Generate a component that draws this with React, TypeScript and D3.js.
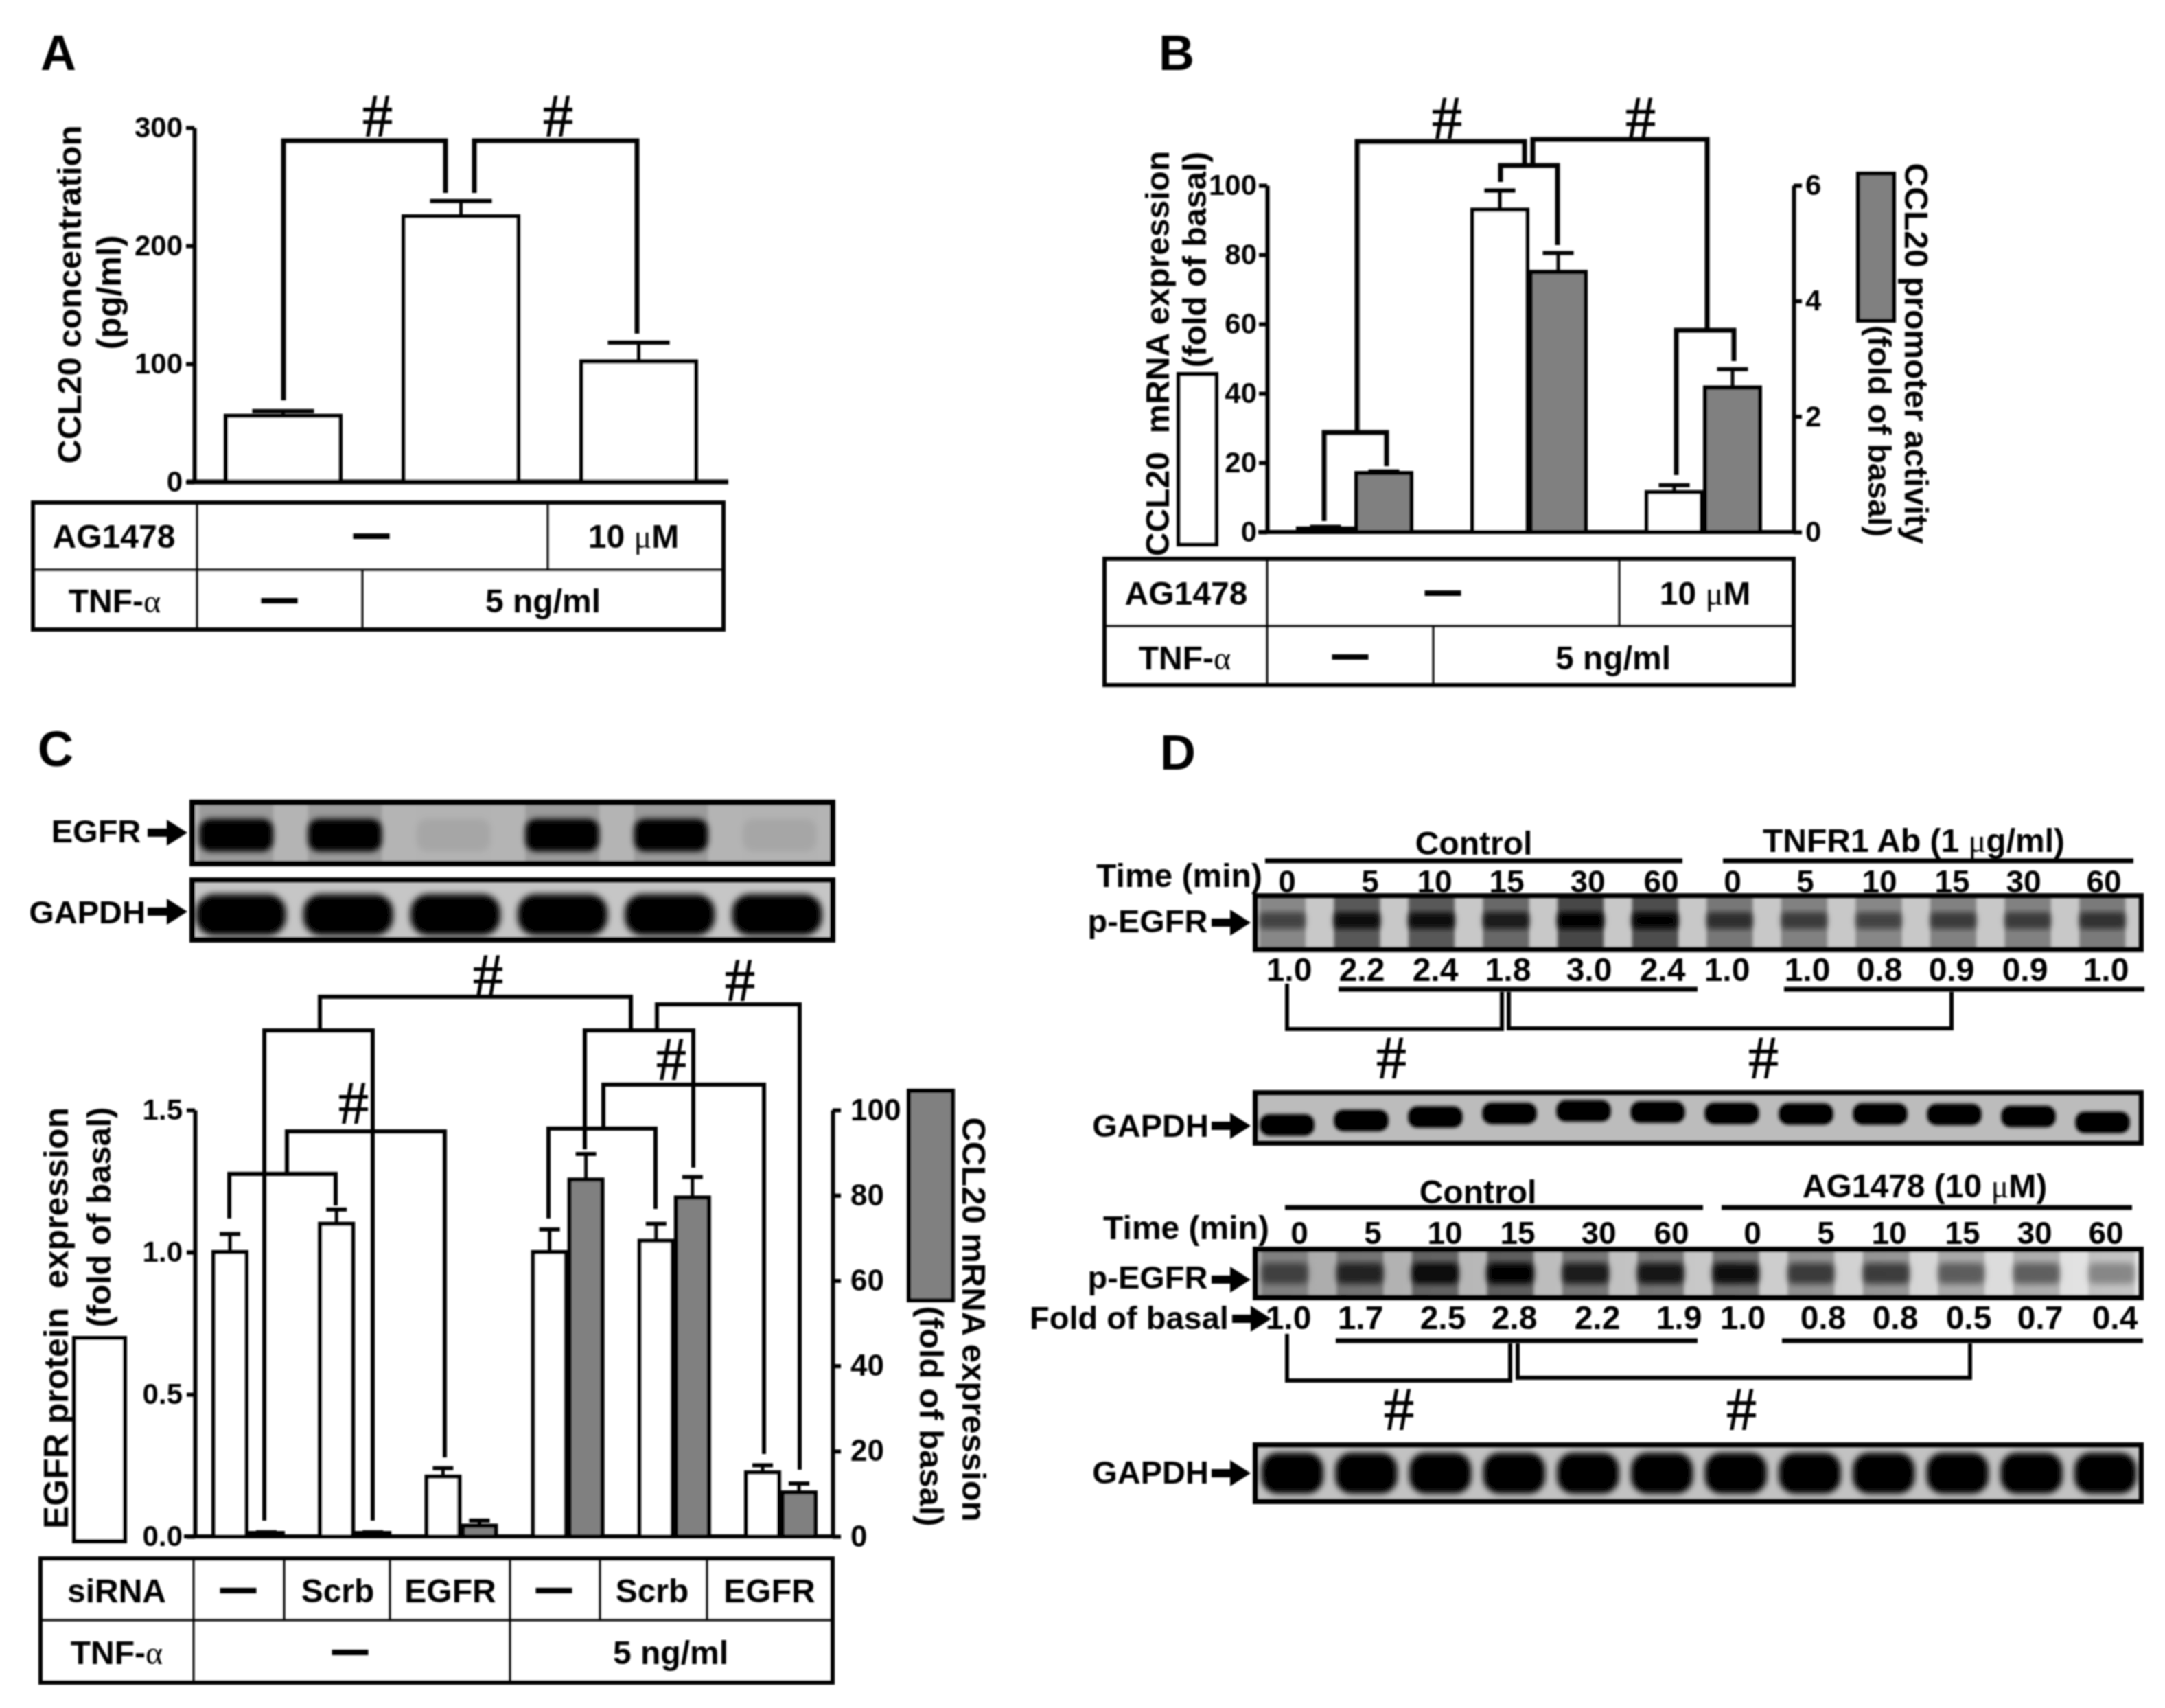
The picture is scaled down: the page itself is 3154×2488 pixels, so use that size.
import * as React from "react";
import * as d3 from "d3";

const SANS = "'Liberation Sans', Arial, sans-serif";
const SERIF = "'Liberation Serif', serif";

// panel A
const aValues = [56, 225, 102];
const aErrors = [60, 238, 118];
const aTicks = [0, 100, 200, 300];

// panel B
const bMrna = [1, 93, 11.5];
const bMrnaErr = [1.5, 98.5, 13.5];
const bPromoter = [1.02, 4.5, 2.5];
const bPromoterErr = [1.05, 4.83, 2.82];
const bLeftTicks = [0, 20, 40, 60, 80, 100];
const bRightTicks = [0, 2, 4, 6];

// panel C
const cProtein = [1.0, 1.1, 0.21, 1.0, 1.04, 0.225];
const cProteinErr = [1.064, 1.15, 0.24, 1.08, 1.1, 0.25];
const cMrna = [0.8, 0.8, 2.5, 83.7, 79.5, 10.3];
const cMrnaErr = [1, 1, 3.7, 89.7, 84.3, 12.4];
const cLeftTicks = [0, 0.5, 1, 1.5];
const cRightTicks = [0, 20, 40, 60, 80, 100];

// blots, band strength per lane
const cEgfrBands = [1, 1, 0.07, 1, 1, 0.07];
const cGapdhBands = [1, 1, 1, 1, 1, 1];
const d1Phospho = [0.5, 0.85, 0.85, 0.75, 1, 0.95, 0.62, 0.55, 0.5, 0.55, 0.55, 0.6];
const d1Gapdh = [1, 1, 1, 1, 1, 1, 1, 1, 1, 1, 1, 1];
const d1GapdhShift = [0.14, 0.05, -0.02, -0.09, -0.14, -0.115, -0.09, -0.08, -0.08, -0.07, -0.03, 0.09];
const d2Phospho = [0.5, 0.7, 0.92, 1, 0.78, 0.82, 0.88, 0.6, 0.6, 0.45, 0.45, 0.3];
const d2Gapdh = [1, 1, 1, 1, 1, 1, 1, 1, 1, 1, 1, 1];

// panel D text
const times = ["0", "5", "10", "15", "30", "60"];
const d1Folds = ["1.0", "2.2", "2.4", "1.8", "3.0", "2.4", "1.0", "1.0", "0.8", "0.9", "0.9", "1.0"];
const d2Folds = ["1.0", "1.7", "2.5", "2.8", "2.2", "1.9", "1.0", "0.8", "0.8", "0.5", "0.7", "0.4"];

// layout of annotation lines, not data: [x, y] polylines in page pixels
const aBrackets = [
  [[413, 583], [413, 205], [649, 205], [649, 281]],
  [[691, 281], [691, 205], [928, 205], [928, 486]],
];
const bBrackets = [
  [[1929, 759], [1929, 630], [2020, 630], [2020, 679]],
  [[1977, 630], [1977, 206], [2221, 206], [2221, 241]],
  [[2186, 265], [2186, 241], [2269, 241], [2269, 357]],
  [[2233, 241], [2233, 203], [2487, 203], [2487, 481]],
  [[2442, 692], [2442, 481], [2526, 481], [2526, 526]],
];
const cBrackets = [
  [[334, 1775], [334, 1710], [489, 1710], [489, 1756]],
  [[418, 1710], [418, 1648], [648, 1648], [648, 2123]],
  [[385, 2215], [385, 1501], [543, 1501], [543, 2215]],
  [[466, 1501], [466, 1452], [919, 1452], [919, 1501]],
  [[852, 1674], [852, 1501], [1010, 1501], [1010, 1701]],
  [[957, 1501], [957, 1463], [1165, 1463], [1165, 2141]],
  [[799, 1775], [799, 1644], [955, 1644], [955, 1761]],
  [[879, 1644], [879, 1580], [1113, 1580], [1113, 2118]],
];
const dBrackets = [
  [[1875, 1433], [1875, 1499], [2188, 1499], [2188, 1445]],
  [[2198, 1445], [2198, 1498], [2843, 1498], [2843, 1445]],
  [[1875, 1943], [1875, 2011], [2200, 2011], [2200, 1957]],
  [[2211, 1957], [2211, 2007], [2870, 2007], [2870, 1957]],
];
const dRules = [
  [1843, 2451, 1254], [2510, 3108, 1254], [1950, 2473, 1441], [2599, 3124, 1441],
  [1872, 2481, 1759], [2508, 3106, 1759], [1946, 2473, 1953], [2596, 3122, 1953],
];

const INK = "#050505";

const Label = ({ x, y, size = 48, rot = 0, anchor = "middle", children }: any) => (
  <text
    transform={`translate(${x},${y}) rotate(${rot})`}
    textAnchor={anchor}
    fontFamily={SANS}
    fontWeight="bold"
    fontSize={size}
    fill={INK}
    dy={rot === 0 ? ".36em" : 0}
  >
    {children}
  </text>
);

const Sym = ({ children }: any) => (
  <tspan fontFamily={SERIF} fontWeight="normal">{children}</tspan>
);

const Hash = ({ x, y }: { x: number; y: number }) => (
  <text x={x} y={y} dy=".33em" textAnchor="middle" fontFamily={SERIF} fontSize={88} fill={INK} stroke={INK} strokeWidth={1}>#</text>
);

const Letter = ({ x, y, children }: any) => (
  <text x={x} y={y} fontFamily={SANS} fontWeight="bold" fontSize={72} fill={INK}>{children}</text>
);

const Lines = ({ items, width }: { items: number[][][]; width: number }) => {
  const line = d3.line();
  return (
    <g fill="none" stroke={INK} strokeWidth={width} strokeLinejoin="miter">
      {items.map((p, i) => <path key={i} d={line(p as [number, number][])!} />)}
    </g>
  );
};

const Axis = ({ scale, x, side, ticks, size, format, pad = 6, width = 6 }: any) => {
  const ref = React.useRef<SVGGElement>(null);
  React.useEffect(() => {
    const base = side === "left" ? d3.axisLeft(scale) : d3.axisRight(scale);
    const axis = base.tickValues(ticks).tickSizeInner(12).tickSizeOuter(0).tickPadding(pad).tickFormat(format ?? d3.format("d"));
    const g = d3.select(ref.current!);
    g.call(axis as any);
    g.selectAll("path,line").attr("stroke", INK).attr("stroke-width", width);
    g.selectAll("text")
      .attr("font-family", SANS)
      .attr("font-weight", "bold")
      .attr("font-size", size)
      .attr("fill", INK);
  }, []);
  return <g ref={ref} transform={`translate(${x},0)`} />;
};

const Bars = ({ x, width, y, values, errors, fill, cap, stroke = 6, errStroke = 5 }: any) => (
  <g stroke={INK}>
    {values.map((v: number, i: number) => {
      const cx = x(i) + width / 2;
      return (
        <g key={i}>
          <line x1={cx} x2={cx} y1={y(v)} y2={y(errors[i])} strokeWidth={errStroke} />
          <line x1={cx - cap / 2} x2={cx + cap / 2} y1={y(errors[i])} y2={y(errors[i])} strokeWidth={errStroke + 1} />
          <rect x={x(i) + stroke / 2} width={width - stroke} y={y(v)} height={y(0) - y(v)} fill={fill} strokeWidth={stroke} />
        </g>
      );
    })}
  </g>
);

const Table = ({ x0, x1, y0, y1, y2, top, bottom, inner = 3 }: any) => (
  <g stroke={INK} fill="none">
    <line x1={x0} x2={x1} y1={y1} y2={y1} strokeWidth={inner} />
    {top.map((x: number) => <line key={x} x1={x} x2={x} y1={y0} y2={y1} strokeWidth={inner} />)}
    {bottom.map((x: number) => <line key={x} x1={x} x2={x} y1={y1} y2={y2} strokeWidth={inner} />)}
    <rect x={x0} y={y0} width={x1 - x0} height={y2 - y0} strokeWidth={6} />
  </g>
);

const Dash = ({ x, y, w = 53 }: any) => <rect x={x - w / 2} y={y - 4} width={w} height={8} fill={INK} />;

const Arrow = ({ x0, x1, y }: any) => (
  <g fill={INK}>
    <rect x={x0} y={y - 6} width={x1 - x0 - 24} height={12} />
    <path d={`M${x1},${y}L${x1 - 30},${y - 19}L${x1 - 30},${y + 19}Z`} />
  </g>
);

const Blot = ({ id, x0, x1, y0, y1, laneRange, bands, bg, bandH, bandDy = 0, rx, widthK = 0.85, shift, smear = 0, blur = 5, frame = 8 }: any) => {
  const lane = d3.scaleBand<number>().domain(d3.range(bands.length)).range(laneRange ?? [x0, x1]);
  const mid = (y0 + y1) / 2 + bandDy;
  const h = y1 - y0;
  const w = lane.bandwidth() * widthK;
  const bx = (i: number) => lane(i)! + (lane.bandwidth() - w) / 2;
  return (
    <g>
      <clipPath id={`clip-${id}`}><rect x={x0} y={y0} width={x1 - x0} height={h} /></clipPath>
      <rect x={x0} y={y0} width={x1 - x0} height={h} fill={bg} />
      <g clipPath={`url(#clip-${id})`}>
        {smear > 0 && (
          <g filter="url(#blur2)">
            {bands.map((b: number, i: number) => (
              <rect key={i} x={bx(i)} y={y0 - 10} width={w} height={h + 20} fill="#000" opacity={b * smear} />
            ))}
          </g>
        )}
        <g filter={`url(#blur${blur})`}>
          {bands.map((b: number, i: number) => {
            const by = mid + (shift ? shift[i] * h : 0);
            return (
              <rect key={i} x={bx(i)} y={by - bandH / 2} width={w} height={bandH} rx={rx ?? bandH / 2.2} fill="#000" opacity={b} />
            );
          })}
        </g>
      </g>
      <rect x={x0} y={y0} width={x1 - x0} height={h} fill="none" stroke={INK} strokeWidth={frame} />
    </g>
  );
};

const LaneLabels = ({ labels, xs, y, size }: any) => (
  <g>{labels.map((t: string, i: number) => <Label key={i} x={xs[i]} y={y} size={size}>{t}</Label>)}</g>
);

// x of lane labels in panel D, page pixels
const d1TimeX = [1875, 1996, 2090, 2195, 2313, 2420, 2524, 2630, 2738, 2844, 2948, 3065];
const d1FoldX = [1878, 1984, 2091, 2197, 2315, 2422, 2516, 2633, 2738, 2843, 2950, 3068];
const d2TimeX = [1893, 2000, 2105, 2211, 2329, 2435, 2553, 2660, 2752, 2859, 2964, 3068];
const d2FoldX = [1877, 1982, 2102, 2206, 2327, 2446, 2539, 2656, 2761, 2868, 2972, 3081];

export default function App() {
  // panel A scales
  const aY = d3.scaleLinear().domain([0, 300]).range([702, 186]);
  const aX = d3.scaleLinear().domain([0, 2]).range([326, 844]);

  // panel B scales
  const bY = d3.scaleLinear().domain([0, 100]).range([775, 270]);
  const bY2 = d3.scaleLinear().domain([0, 6]).range([775, 270]);
  const bX = d3.scaleLinear().domain([0, 2]).range([1888, 2396]);
  const bX2 = d3.scaleLinear().domain([0, 2]).range([1973, 2481]);

  // panel C scales
  const cY = d3.scaleLinear().domain([0, 1.5]).range([2238, 1617]);
  const cY2 = d3.scaleLinear().domain([0, 100]).range([2238, 1617]);
  const cX = d3.scaleLinear().domain([0, 5]).range([308, 1084]);
  const cX2 = d3.scaleLinear().domain([0, 5]).range([361, 1137]);

  const allTimes = [...times, ...times];

  return (
    <svg width={3154} height={2488} style={{ position: "fixed", left: 0, top: 0, background: "#fff" }}>
      <defs>
        <filter id="soft" filterUnits="userSpaceOnUse" x="0" y="0" width="3154" height="2488"><feGaussianBlur stdDeviation={0.8} /></filter>
        <filter id="blur2" x="-20%" y="-20%" width="140%" height="140%"><feGaussianBlur stdDeviation={2} /></filter>
        <filter id="blur4" x="-20%" y="-20%" width="140%" height="140%"><feGaussianBlur stdDeviation={4} /></filter>
        <filter id="blur5" x="-20%" y="-20%" width="140%" height="140%"><feGaussianBlur stdDeviation={5} /></filter>
        <linearGradient id="d2bg">
          <stop offset="0" stopColor="#a8a8a8" />
          <stop offset="0.5" stopColor="#c8c8c8" />
          <stop offset="1" stopColor="#e6e6e6" />
        </linearGradient>
      </defs>

      <g filter="url(#soft)">
      {/* A */}
      <Letter x={59} y={102}>A</Letter>
      <Bars x={aX} width={173} y={aY} values={aValues} errors={aErrors} fill="#fff" cap={90} />
      <Axis scale={aY} x={283} side="left" ticks={aTicks} size={42} pad={5} />
      <line x1={272} x2={1061} y1={aY(0)} y2={aY(0)} stroke={INK} strokeWidth={7} />
      <Lines items={aBrackets} width={7} />
      <Hash x={550} y={169} />
      <Hash x={813} y={169} />
      <Label x={118} y={429} size={49} rot={-90}>CCL20 concentration</Label>
      <Label x={176} y={426} size={50} rot={-90}>(pg/ml)</Label>
      <Table x0={48} x1={1054} y0={732} y1={830} y2={917} top={[287, 798]} bottom={[287, 528]} />
      <Label x={166} y={781}>AG1478</Label>
      <Dash x={541} y={781} />
      <Label x={923} y={781}>10 <Sym>μ</Sym>M</Label>
      <Label x={167} y={875}>TNF-<Sym>α</Sym></Label>
      <Dash x={407} y={875} />
      <Label x={791} y={875}>5 ng/ml</Label>

      {/* B */}
      <Letter x={1688} y={102}>B</Letter>
      <Bars x={bX} width={86} y={bY} values={bMrna} errors={bMrnaErr} fill="#fff" cap={45} />
      <Bars x={bX2} width={86} y={bY2} values={bPromoter} errors={bPromoterErr} fill="#808080" cap={45} />
      <Axis scale={bY} x={1846} side="left" ticks={bLeftTicks} size={42} pad={3} />
      <Axis scale={bY2} x={2613} side="right" ticks={bRightTicks} size={42} pad={5} />
      <line x1={1833} x2={2613} y1={bY(0)} y2={bY(0)} stroke={INK} strokeWidth={6} />
      <Lines items={bBrackets} width={7} />
      <Hash x={2108} y={172} />
      <Hash x={2390} y={172} />
      <rect x={1717} y={545} width={55} height={248} fill="#fff" stroke={INK} strokeWidth={6} />
      <rect x={2707} y={253} width={52} height={214} fill="#808080" stroke={INK} strokeWidth={6} />
      <Label x={1703} y={515} size={48} rot={-90}>{"CCL20\u00a0\u00a0mRNA expression"}</Label>
      <Label x={1757} y={378} size={48} rot={-90}>(fold of basal)</Label>
      <Label x={2775} y={515} size={48} rot={90}>CCL20 promoter activity</Label>
      <Label x={2722} y={628} size={47} rot={90}>(fold of basal)</Label>
      <Table x0={1609} x1={2613} y0={814} y1={912} y2={998} top={[1846, 2359]} bottom={[1846, 2088]} />
      <Label x={1728} y={864}>AG1478</Label>
      <Dash x={2102} y={864} />
      <Label x={2484} y={864}>10 <Sym>μ</Sym>M</Label>
      <Label x={1726} y={958}>TNF-<Sym>α</Sym></Label>
      <Dash x={1967} y={957} />
      <Label x={2350} y={958}>5 ng/ml</Label>

      {/* C */}
      <Letter x={55} y={1116}>C</Letter>
      <Blot id="c1" x0={280} x1={1213} y0={1169} y1={1258} laneRange={[265, 1215]} bands={cEgfrBands} bg="#b4b4b4" bandH={48} bandDy={3} rx={16} widthK={0.68} smear={0.14} blur={4} />
      <Blot id="c2" x0={280} x1={1213} y0={1282} y1={1369} laneRange={[273, 1210]} bands={cGapdhBands} bg="#c6c6c6" bandH={60} bandDy={7} rx={26} widthK={0.84} blur={5} />
      <Label x={140} y={1210} size={47}>EGFR</Label>
      <Arrow x0={215} x1={273} y={1213} />
      <Label x={127} y={1328} size={47}>GAPDH</Label>
      <Arrow x0={215} x1={273} y={1328} />
      <Bars x={cX} width={54} y={cY} values={cProtein} errors={cProteinErr} fill="#fff" cap={30} />
      <Bars x={cX2} width={54} y={cY2} values={cMrna} errors={cMrnaErr} fill="#808080" cap={30} />
      <Axis scale={cY} x={284} side="left" ticks={cLeftTicks} size={42} format={d3.format(".1f")} pad={6} />
      <Axis scale={cY2} x={1213} side="right" ticks={cRightTicks} size={44} pad={14} />
      <line x1={268} x2={1213} y1={cY(0)} y2={cY(0)} stroke={INK} strokeWidth={6} />
      <Lines items={cBrackets} width={6} />
      <Hash x={711} y={1421} />
      <Hash x={1078} y={1428} />
      <Hash x={978} y={1543} />
      <Hash x={515} y={1607} />
      <rect x={108} y={1949} width={74} height={296} fill="#fff" stroke={INK} strokeWidth={6} />
      <rect x={1324} y={1589} width={64} height={305} fill="#808080" stroke={INK} strokeWidth={6} />
      <Label x={99} y={1920} size={50} rot={-90}>{"EGFR protein\u00a0\u00a0expression"}</Label>
      <Label x={161} y={1773} size={49} rot={-90}>(fold of basal)</Label>
      <Label x={1402} y={1922} size={49} rot={90}>CCL20 mRNA expression</Label>
      <Label x={1340} y={2063} size={49} rot={90}>(fold of basal)</Label>
      <Table x0={59} x1={1213} y0={2270} y1={2360} y2={2451} top={[282, 414, 568, 743, 874, 1030]} bottom={[282, 743]} />
      <Label x={170} y={2317}>siRNA</Label>
      <Dash x={347} y={2317} />
      <Label x={492} y={2317}>Scrb</Label>
      <Label x={656} y={2317}>EGFR</Label>
      <Dash x={807} y={2317} />
      <Label x={950} y={2317}>Scrb</Label>
      <Label x={1121} y={2317}>EGFR</Label>
      <Label x={170} y={2407}>TNF-<Sym>α</Sym></Label>
      <Dash x={510} y={2407} />
      <Label x={977} y={2407}>5 ng/ml</Label>

      {/* D */}
      <Letter x={1690} y={1121}>D</Letter>
      <Label x={2147} y={1228}>Control</Label>
      <Label x={2788} y={1224}>TNFR1 Ab (1 <Sym>μ</Sym>g/ml)</Label>
      <Label x={1718} y={1275}>Time (min)</Label>
      <LaneLabels labels={allTimes} xs={d1TimeX} y={1283} size={46} />
      <Blot id="d1" x0={1829} x1={3119} y0={1305} y1={1383} laneRange={[1814, 3117]} bands={d1Phospho} bg="#c8c8c8" bandH={24} bandDy={-3} rx={6} widthK={0.62} smear={0.65} blur={4} />
      <Label x={1672} y={1341} size={47}>p-EGFR</Label>
      <Arrow x0={1765} x1={1822} y={1344} />
      <LaneLabels labels={d1Folds} xs={d1FoldX} y={1412} size={48} />
      <Lines items={dBrackets} width={6} />
      <g stroke={INK} strokeWidth={7}>
        {dRules.map((r, i) => <line key={i} x1={r[0]} x2={r[1]} y1={r[2]} y2={r[2]} />)}
      </g>
      <Hash x={2027} y={1541} />
      <Hash x={2569} y={1541} />
      <Blot id="d1g" x0={1829} x1={3119} y0={1592} y1={1665} laneRange={[1821, 3117]} bands={d1Gapdh} bg="#bcbcbc" bandH={32} rx={14} widthK={0.74} shift={d1GapdhShift} blur={2} />
      <Label x={1676} y={1639} size={47}>GAPDH</Label>
      <Arrow x0={1765} x1={1822} y={1640} />

      <Label x={2153} y={1736}>Control</Label>
      <Label x={2804} y={1727}>AG1478 (10 <Sym>μ</Sym>M)</Label>
      <Label x={1728} y={1788}>Time (min)</Label>
      <LaneLabels labels={allTimes} xs={d2TimeX} y={1795} size={46} />
      <Blot id="d2" x0={1829} x1={3119} y0={1820} y1={1890} laneRange={[1817, 3131]} bands={d2Phospho} bg="url(#d2bg)" bandH={30} rx={8} widthK={0.62} smear={0.5} blur={5} />
      <Label x={1672} y={1860} size={47}>p-EGFR</Label>
      <Arrow x0={1765} x1={1822} y={1864} />
      <Label x={1645} y={1919} size={47}>Fold of basal</Label>
      <Arrow x0={1795} x1={1852} y={1921} />
      <LaneLabels labels={d2Folds} xs={d2FoldX} y={1919} size={48} />
      <Hash x={2038} y={2053} />
      <Hash x={2537} y={2053} />
      <Blot id="d2g" x0={1829} x1={3119} y0={2105} y1={2187} laneRange={[1829, 3121]} bands={d2Gapdh} bg="#c2c2c2" bandH={60} rx={24} widthK={0.84} blur={4} />
      <Label x={1676} y={2144} size={47}>GAPDH</Label>
      <Arrow x0={1765} x1={1822} y={2146} />
      </g>
    </svg>
  );
}
